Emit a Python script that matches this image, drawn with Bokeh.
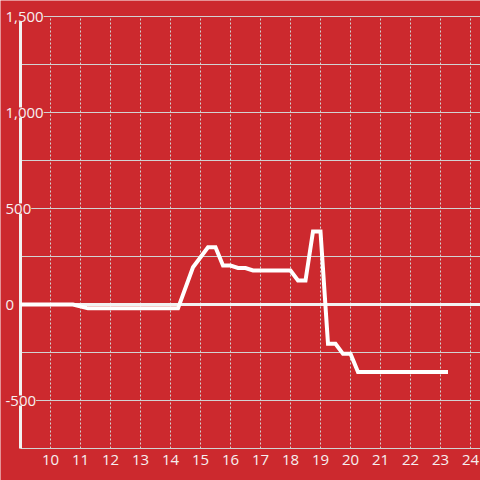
from bokeh.plotting import figure
from bokeh.models import LabelSet, ColumnDataSource, Range1d
from bokeh.embed import file_html
from bokeh.resources import INLINE
from bokeh.core.properties import value

# ---- data ----
hours = [9.0, 10.75, 11.25, 14.25, 14.75, 15.25, 15.5, 15.75, 16.0, 16.25, 16.5,
         16.75, 18.0, 18.25, 18.5, 18.75, 19.0, 19.25, 19.5, 19.75, 20.0, 20.25, 23.25]
values = [0, 0, -20, -20, 194, 298, 298, 203, 203, 190, 190,
          177, 177, 125, 125, 380, 380, -205, -205, -257, -257, -352, -352]
x_ticks = list(range(10, 25))
x_tick_text = [str(t) for t in x_ticks]
y_grid = [1500, 1250, 1000, 750, 500, 250, -250, -500, -750]
y_label_values = [1500, 1000, 500, 0, -500]
y_label_text = ["1,500", "1,000", "500", "0", "-500"]

RED = "#cc292e"
GRID = "#d2d2d2"
WHITE = "#ffffff"
AXIS = "#f2f2f2"
TXT = "#f6f0f0"

x_start, y_min, y_max = 9.0, -750, 1500
W = H = 480
px_per_x = 30.0          # pixels per hour
px_per_y = 96.0 / 500.0  # pixels per unit
x_lo = x_start - 20 / px_per_x
x_hi = x_lo + W / px_per_x
y_hi = y_max + 16 / px_per_y
y_lo = y_hi - H / px_per_y

p = figure(width=W, height=H,
           x_range=Range1d(x_lo, x_hi), y_range=Range1d(y_lo, y_hi),
           output_backend="svg", toolbar_location=None,
           x_axis_location=None, y_axis_location=None,
           min_border=0,
           background_fill_color=RED, border_fill_color=RED,
           outline_line_color=None)
p.grid.visible = False

# horizontal grid
hsrc = ColumnDataSource(dict(y=y_grid, x0=[x_start] * len(y_grid), x1=[x_hi] * len(y_grid)))
p.segment(x0="x0", y0="y", x1="x1", y1="y", source=hsrc, line_color=GRID, line_width=1)

# vertical dashed grid
vsrc = ColumnDataSource(dict(x=x_ticks, y0=[y_min] * len(x_ticks), y1=[y_max] * len(x_ticks)))
p.segment(x0="x", y0="y0", x1="x", y1="y1", source=vsrc, line_color=GRID,
          line_width=1, line_dash="2 2")

# zero line
p.segment(x0=[x_start], y0=[0], x1=[x_hi], y1=[0], line_color=AXIS, line_width=3)

# y axis line
p.segment(x0=[x_start], y0=[y_min], x1=[x_start], y1=[y_max], line_color=AXIS, line_width=3)

# series
p.line(hours, values, line_color=WHITE, line_width=4, line_join="miter")

# x tick labels
tsrc = ColumnDataSource(dict(x=x_ticks, y=[y_min] * len(x_ticks), text=x_tick_text))
p.text(x="x", y="y", text="text", source=tsrc, y_offset=11,
       text_align="center", text_baseline="middle", text_color=TXT,
       text_font=value("Open Sans"), text_font_size=value("15px"))

# y labels (with red background covering axis/grid)
lsrc = ColumnDataSource(dict(y=y_label_values, text=y_label_text))
labels = LabelSet(x=5, y="y", text="text", x_units="screen", source=lsrc,
                  text_align="left", text_baseline="middle",
                  text_color=TXT, text_font=value("Open Sans"),
                  text_font_size=value("15px"),
                  background_fill_color=RED)
p.add_layout(labels)

open("out.html", "w").write(file_html(p, INLINE))
